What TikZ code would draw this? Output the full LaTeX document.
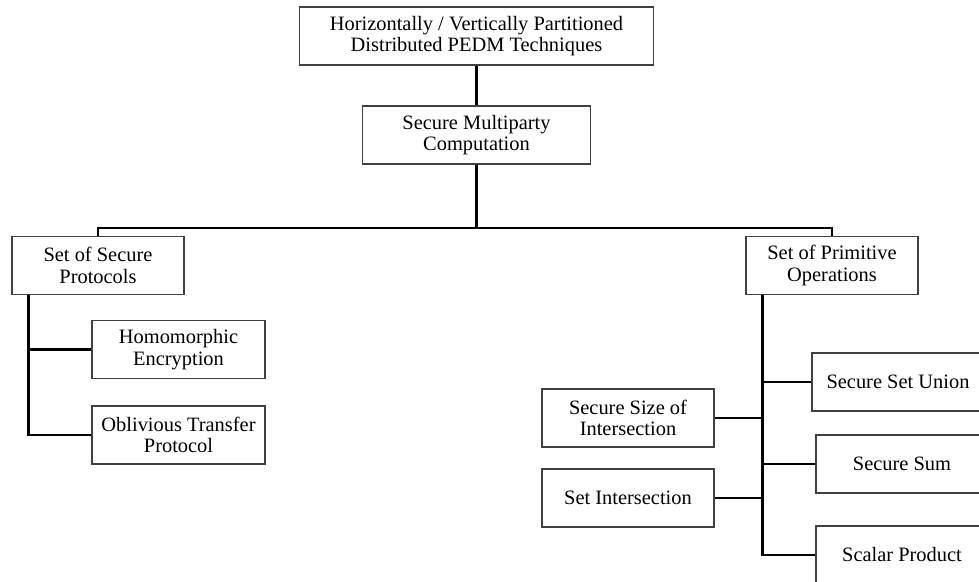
\documentclass[tikz,border=0pt]{standalone}
\usepackage{fontspec}
\setmainfont{Liberation Serif}
\usetikzlibrary{calc}
\begin{document}
\begin{tikzpicture}[x=1bp,y=-1bp,
  box/.style={draw=black!75, line width=1.1bp, fill=white, minimum width=172bp,
    minimum height=58bp, inner sep=1bp, align=center,
    font=\fontsize{20.5}{21.5}\selectfont},
  conn/.style={draw=black, line width=2.4bp}]
\useasboundingbox (0,0) rectangle (979,582);
\clip (0,0) rectangle (979,582);

% tree levels
\node[box, minimum width=354bp] (top) at (476.5,36) {Horizontally / Vertically Partitioned\\Distributed PEDM Techniques};
\node[box, minimum width=228bp] (smc) at (476.5,135) {Secure Multiparty\\Computation};
\node[box] (sp)  at (98,265.5)  {Set of Secure\\Protocols};
\node[box] (spo) at (832,265.5) {Set of Primitive\\Operations};

% secure protocols
\node[box, minimum width=173bp] (he) at (178.5,349.5) {Homomorphic\\Encryption};
\node[box, minimum width=173bp] (ot) at (178.5,435)   {Oblivious Transfer\\Protocol};

% primitive operations
\node[box] (ssi) at (628,418) {Secure Size of\\Intersection};
\node[box] (si)  at (628,498) {Set Intersection};
\node[box] (ssu) at (898,382) {Secure Set Union};
\node[box] (ssm) at (902,464) {Secure Sum};
\node[box] (scp) at (902,555) {Scalar Product};

% connectors
\coordinate (bus) at (476.5,228);
\draw[conn] (top.south) -- (smc.north);
\draw[conn] (smc.south) -- (bus);
\draw[conn] (sp.north) |- (bus) -| (spo.north);

\coordinate (lv) at ($(sp.south west)+(17,0)$);
\draw[conn] (lv) |- (ot.west);
\draw[conn] (lv |- he.west) -- (he.west);

\coordinate (rv) at ($(spo.south west)+(17,0)$);
\draw[conn] (rv) |- (scp.west);
\draw[conn] (rv |- ssu.west) -- (ssu.west);
\draw[conn] (rv |- ssm.west) -- (ssm.west);
\draw[conn] (ssi.east) -- (ssi.east -| rv);
\draw[conn] (si.east) -- (si.east -| rv);
\end{tikzpicture}
\end{document}
